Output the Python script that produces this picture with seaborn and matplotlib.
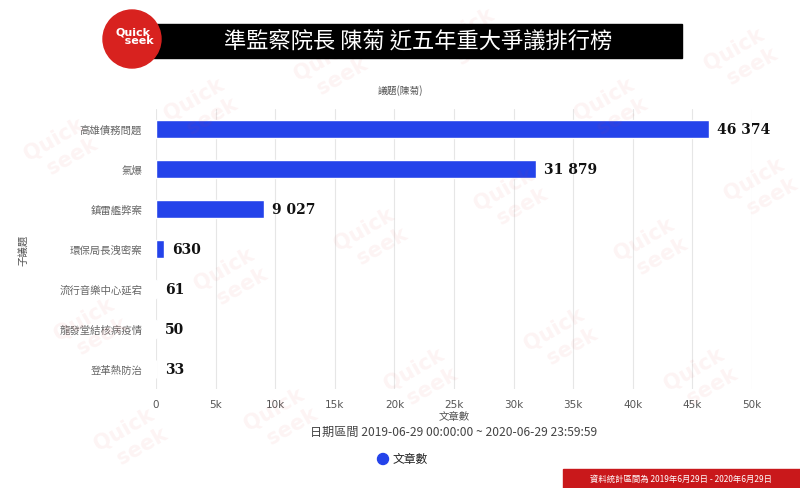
import matplotlib
matplotlib.use("Agg")
import matplotlib.pyplot as plt
from matplotlib.patches import Ellipse, Rectangle
import seaborn as sns
import pandas as pd

categories = ["高雄債務問題", "氣爆", "鎮雷艦弊案", "環保局長洩密案", "流行音樂中心延宕", "龍發堂結核病疫情", "登革熱防治"]
values = [46374, 31879, 9027, 630, 61, 50, 33]
xticks = [0, 5000, 10000, 15000, 20000, 25000, 30000, 35000, 40000, 45000, 50000]
xticklabels = ["0", "5k", "10k", "15k", "20k", "25k", "30k", "35k", "40k", "45k", "50k"]

sns.set_theme(style="white")
plt.rcParams['font.family'] = ['Noto Sans CJK TC', 'DejaVu Sans']

W, H = 800, 489
df = pd.DataFrame({"cat": categories, "val": values})
fig = plt.figure(figsize=(8, 4.89), dpi=100)
fig.patch.set_facecolor("white")

# faint watermarks
wm_pos = [(60, 150), (200, 110), (330, 70), (470, 40), (610, 110), (740, 60),
          (90, 330), (230, 280), (370, 240), (510, 200), (650, 250), (760, 190),
          (130, 440), (280, 420), (420, 380), (560, 340), (700, 380)]
for (px, py) in wm_pos:
    fig.text(px / W, 1 - py / H, "Quick\n  seek", color="#e23b3b", alpha=0.06, fontsize=15,
             fontweight="bold", rotation=30, ha="center", va="center",
             family="DejaVu Sans", zorder=0)

ax = fig.add_axes([156 / W, 1 - 390 / H, 596 / W, 280 / H])
ax.set_facecolor("none")
sns.barplot(data=df, y="cat", x="val", orient="h", color="#2443ea", saturation=1,
            width=0.47, ax=ax, zorder=3)
ax.set_xlim(0, 50000)
ax.set_xticks(xticks)
ax.set_xticklabels(xticklabels, fontsize=7.5, color="#555555", family="DejaVu Sans")
ax.tick_params(axis="y", labelsize=7.5, labelcolor="#666666", length=0, pad=10)
ax.tick_params(axis="x", length=0, pad=7)
ax.grid(axis="x", color="#e6e6e6", linewidth=0.8, zorder=0)
for s in ax.spines.values():
    s.set_visible(False)
ax.set_ylabel("子議題", fontsize=7.5, color="#555555")
ax.yaxis.set_label_coords((29 - 156) / 596, 0.5)
ax.set_xlabel("文章數", fontsize=7.5, color="#555555", labelpad=2)

for i, v in enumerate(values):
    lab = f"{v:,}".replace(",", " ")
    ax.text(v + 700, i, lab, va="center", ha="left", fontsize=10, fontweight="bold",
            family="DejaVu Serif", color="#111111", zorder=4)

fig.text(454 / W, 1 - 432 / H, "日期區間 2019-06-29 00:00:00 ~ 2020-06-29 23:59:59",
         ha="center", va="center", fontsize=8.7, color="#444444",
         family=['Noto Sans CJK TC', 'DejaVu Sans'])

# legend
r = 5.5
fig.add_artist(Ellipse((383 / W, 1 - 460 / H), 2 * r / W, 2 * r / H, transform=fig.transFigure,
                       color="#2443ea"))
fig.text(393 / W, 1 - 460 / H, "文章數", ha="left", va="center", fontsize=8.5, color="#222222")

# subtitle
fig.text(0.5, 1 - 91 / H, "議題(陳菊)", ha="center", va="center", fontsize=7, color="#555555")

# title banner
fig.add_artist(Rectangle((112 / W, 1 - 59 / H), (682 - 112) / W, 34 / H,
                         transform=fig.transFigure, color="#000000", zorder=5))
fig.text(418 / W, 1 - 42 / H, "準監察院長 陳菊 近五年重大爭議排行榜", ha="center", va="center",
         fontsize=16, color="white", zorder=6)
rc = 29
fig.add_artist(Ellipse((132 / W, 1 - 40 / H), 2 * rc / W, 2 * rc / H, transform=fig.transFigure,
                       color="#d8221f", zorder=7))
fig.text(133 / W, 1 - 37 / H, "Quick\n   seek", ha="center", va="center", fontsize=8,
         fontweight="bold", color="white", family="DejaVu Sans", zorder=8, linespacing=0.85)

# red footer box
fig.add_artist(Rectangle((563 / W, 0), (W - 563) / W, 19 / H,
                         transform=fig.transFigure, color="#c9181b", zorder=5))
fig.text(681 / W, 9.5 / H, "資料統計區間為 2019年6月29日 - 2020年6月29日", ha="center",
         va="center", fontsize=6, color="white", zorder=6)

fig.savefig("out.png", dpi=100, facecolor="white")
